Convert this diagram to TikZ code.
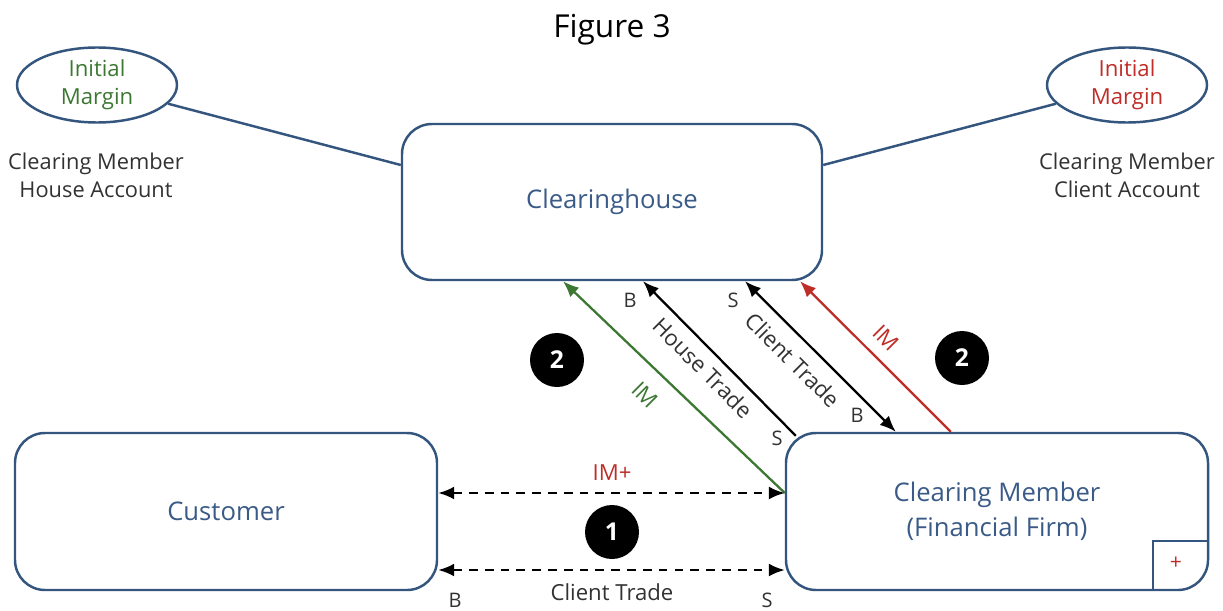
\documentclass[tikz,border=0pt]{standalone}
\usepackage{fontspec}
\setmainfont{Open Sans}
\usetikzlibrary{arrows.meta,shapes.geometric}
\definecolor{boxblue}{RGB}{52,85,125}
\definecolor{txtblue}{RGB}{58,90,135}
\definecolor{imgreen}{RGB}{60,120,50}
\definecolor{imred}{RGB}{190,45,40}
\definecolor{txtgray}{RGB}{50,50,50}
\begin{document}
\begin{tikzpicture}[>={Latex[length=3.2mm,width=2.6mm]},
  party/.style={draw=boxblue,line width=1.4pt,rounded corners=0.6cm,minimum width=8.44cm,minimum height=3.14cm,text=txtblue,align=center,font=\fontsize{14.6}{20}\selectfont},
  margin/.style={ellipse,draw=boxblue,line width=1.4pt,minimum width=3.2cm,minimum height=1.5cm,inner sep=0pt,align=center,font=\fontsize{12.6}{16}\selectfont},
  acct/.style={align=center,text=txtgray,font=\fontsize{12.4}{16}\selectfont},
  stepnum/.style={circle,fill=black,text=white,minimum size=1.08cm,inner sep=0pt,font=\bfseries\fontsize{14}{16}\selectfont},
  lbl/.style={text=txtgray,font=\fontsize{12.6}{14}\selectfont},
  side/.style={text=txtgray,font=\fontsize{11.4}{13}\selectfont},
  flow/.style={line width=1.3pt},
  link/.style={draw=boxblue,line width=1.4pt}]
\useasboundingbox (0,0) rectangle (24.46,12.2);
\node (title) at (12.24,11.6) {\fontsize{18}{21}\selectfont Figure 3};
% margin accounts
\node[margin,text=imgreen] (imL) at (1.94,10.5) {Initial\\Margin};
\node[margin,text=imred] (imR) at (22.54,10.5) {Initial\\Margin};
\node[acct] (houseacct) at (1.92,8.7) {Clearing Member\\House Account};
\node[acct] (clientacct) at (22.54,8.7) {Clearing Member\\Client Account};
% parties
\node[party,minimum width=8.4cm,minimum height=3.12cm] (ch) at (12.24,8.16) {Clearinghouse};
\node[party] (cust) at (4.52,1.97) {Customer};
\node[party] (cm) at (19.94,1.97) {Clearing Member\\(Financial Firm)};
\draw[link] ([xshift=-1.12cm]cm.south east) |- ([yshift=1cm]cm.south east);
\node[text=imred,font=\fontsize{12}{14}\selectfont] (plus) at (23.52,0.94) {+};
\draw[link] (imL) -- ([yshift=0.74cm]ch.west);
\draw[link] (imR) -- ([yshift=0.74cm]ch.east);
% step 2: clearing member <-> clearinghouse
\draw[flow,imgreen,->] ([yshift=0.37cm]cm.west) -- ([xshift=-0.98cm]ch.south);
\draw[flow,->] ([xshift=0.22cm,yshift=-0.08cm]cm.north west) -- ([xshift=0.62cm]ch.south);
\draw[flow,<->] ([xshift=2.66cm]ch.south) -- ([xshift=2.22cm]cm.north west);
\draw[flow,imred,->] ([xshift=3.32cm]cm.north west) -- ([xshift=3.76cm]ch.south);
\node[lbl,text=imgreen,rotate=-45] (imgreenlbl) at (12.9,4.3) {IM};
\node[lbl,rotate=-45] (houselbl) at (14.06,4.84) {House Trade};
\node[lbl,rotate=-45] (clientlbl) at (15.86,5.0) {Client Trade};
\node[lbl,text=imred,rotate=-45] (imredlbl) at (17.72,5.44) {IM};
\node[side] (hb) at (12.6,6.2) {B};
\node[side] (hs) at (15.54,3.44) {S};
\node[side] (cs) at (14.66,6.2) {S};
\node[side] (cb) at (17.14,3.9) {B};
\node[stepnum] (twoL) at (11.14,5.0) {2};
\node[stepnum] (twoR) at (19.24,5.04) {2};
% step 1: customer <-> clearing member
\draw[flow,dash pattern=on 5pt off 4pt,<->] ([yshift=0.37cm]cust.east) -- ([yshift=0.37cm]cm.west);
\draw[flow,dash pattern=on 5pt off 4pt,<->] ([yshift=-1.17cm]cust.east) -- ([yshift=-1.17cm]cm.west);
\node[lbl,text=imred] (implus) at (12.24,2.74) {IM+};
\node[lbl] (tradelbl) at (12.24,0.36) {Client Trade};
\node[side] (tb) at (9.1,0.2) {B};
\node[side] (ts) at (15.34,0.2) {S};
\node[stepnum] (one) at (12.24,1.56) {1};
\end{tikzpicture}
\end{document}
